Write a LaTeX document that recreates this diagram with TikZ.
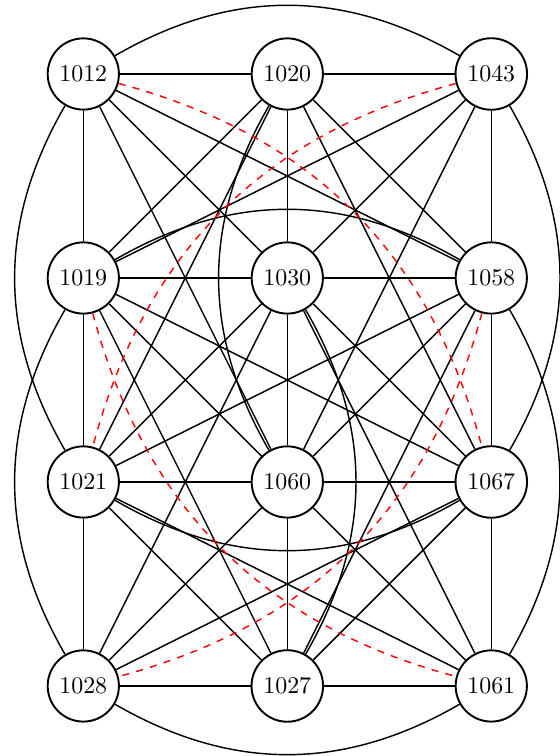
\documentclass[tikz,border=0pt]{standalone}
\begin{document}
\begin{tikzpicture}[
  vtx/.style={circle,draw,thick},
  edge/.style={semithick},
  redge/.style={semithick,red,dashed}
]
\useasboundingbox (-1.225,1.088) rectangle (7.01,-10.03);
% nodes
\node[vtx] (A) at (0,0) {1012};
\node[vtx] (B) at (3,0) {1020};
\node[vtx] (C) at (6,0) {1043};
\node[vtx] (D) at (0,-3) {1019};
\node[vtx] (E) at (3,-3) {1030};
\node[vtx] (F) at (6,-3) {1058};
\node[vtx] (G) at (0,-6) {1021};
\node[vtx] (H) at (3,-6) {1060};
\node[vtx] (I) at (6,-6) {1067};
\node[vtx] (J) at (0,-9) {1028};
\node[vtx] (K) at (3,-9) {1027};
\node[vtx] (L) at (6,-9) {1061};
% horizontal
\draw[edge] (A) -- (B); \draw[edge] (B) -- (C);
\draw[edge] (D) -- (E); \draw[edge] (E) -- (F);
\draw[edge] (G) -- (H); \draw[edge] (H) -- (I);
\draw[edge] (J) -- (K); \draw[edge] (K) -- (L);
% vertical
\draw[edge] (A) -- (D); \draw[edge] (B) -- (E); \draw[edge] (C) -- (F);
\draw[edge] (D) -- (G); \draw[edge] (E) -- (H); \draw[edge] (F) -- (I);
\draw[edge] (G) -- (J); \draw[edge] (H) -- (K); \draw[edge] (I) -- (L);
% diagonals
\draw[edge] (A) -- (E); \draw[edge] (B) -- (D); \draw[edge] (B) -- (F); \draw[edge] (C) -- (E);
\draw[edge] (D) -- (H); \draw[edge] (E) -- (G); \draw[edge] (E) -- (I); \draw[edge] (F) -- (H);
\draw[edge] (G) -- (K); \draw[edge] (H) -- (J); \draw[edge] (H) -- (L); \draw[edge] (I) -- (K);
% knight moves, wide
\draw[edge] (A) -- (F); \draw[edge] (C) -- (D); \draw[edge] (D) -- (I);
\draw[edge] (F) -- (G); \draw[edge] (G) -- (L); \draw[edge] (I) -- (J);
% knight moves, tall
\draw[edge] (A) -- (H); \draw[edge] (B) -- (G); \draw[edge] (B) -- (I); \draw[edge] (C) -- (H);
\draw[edge] (D) -- (K); \draw[edge] (E) -- (J); \draw[edge] (E) -- (L); \draw[edge] (F) -- (K);
% arcs
\draw[edge] (A) to[bend left] (C);
\draw[edge] (D) to[bend left] (F);
\draw[edge] (G) to[bend right] (I);
\draw[edge] (J) to[bend right] (L);
\draw[edge] (A) to[bend right] (G);
\draw[edge] (D) to[bend right] (J);
\draw[edge] (C) to[bend left] (I);
\draw[edge] (F) to[bend left] (L);
\draw[edge] (B) to[bend right] (H);
\draw[edge] (E) to[bend left] (K);
% red dashed
\draw[redge] (A) to[bend left] (I);
\draw[redge] (C) to[bend right] (G);
\draw[redge] (D) to[bend right] (L);
\draw[redge] (F) to[bend left] (J);
\end{tikzpicture}
\end{document}
